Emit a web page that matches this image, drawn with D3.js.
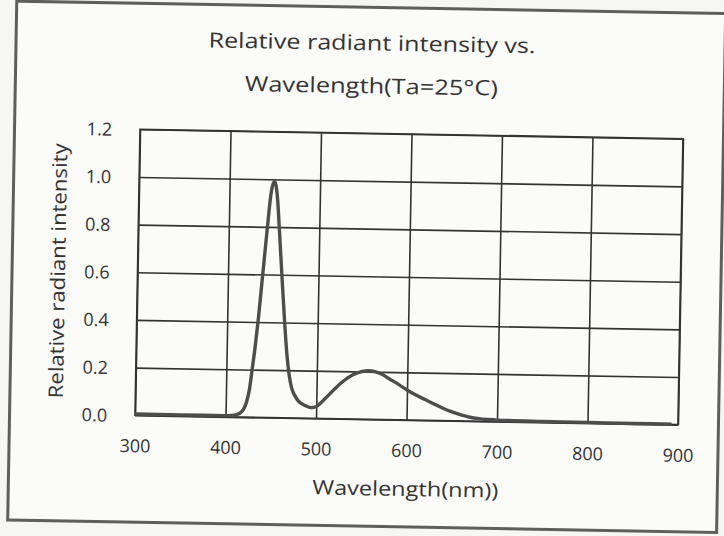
<!DOCTYPE html>
<html>
<head>
<meta charset="utf-8">
<script src="https://cdn.jsdelivr.net/npm/d3@7/dist/d3.min.js"></script>
<style>
  html, body { margin: 0; padding: 0; background: #f6f6f4; }
  svg { display: block; }
</style>
</head>
<body>
<svg id="chart" width="724" height="536"></svg>
<script>
// ---- data ----
const titleLines = ["Relative radiant intensity vs.", "Wavelength(Ta=25\u00B0C)"];
const xLabel = "Wavelength(nm))";
const yLabel = "Relative radiant intensity";

const xTicks = [300, 400, 500, 600, 700, 800, 900];
const yTicks = [0.0, 0.2, 0.4, 0.6, 0.8, 1.0, 1.2];

const wavelength = [300, 350, 400, 407, 412, 417, 420, 423, 426, 428.5, 431.5, 434.5, 437.5, 440.5, 443.5, 446, 448.5, 449.5, 451, 453.5, 455.5, 459.5, 463.5, 466.5, 469.5, 472.5, 476, 480, 487, 494, 500, 510, 520, 530, 540, 550, 557, 565, 572, 580, 590, 600, 610, 620, 630, 640, 650, 660, 670, 680, 690, 700, 750, 800, 850, 893];
const intensity  = [0.005, 0.005, 0.005, 0.006, 0.01, 0.02, 0.035, 0.065, 0.12, 0.2, 0.3, 0.42, 0.56, 0.7, 0.84, 0.94, 0.985, 0.99, 0.98, 0.91, 0.81, 0.6, 0.4, 0.27, 0.18, 0.125, 0.095, 0.072, 0.054, 0.045, 0.05, 0.085, 0.125, 0.16, 0.186, 0.2, 0.204, 0.2, 0.19, 0.172, 0.15, 0.126, 0.105, 0.087, 0.069, 0.052, 0.037, 0.025, 0.016, 0.011, 0.008, 0.006, 0.004, 0.003, 0.002, 0.002];

// ---- layout ----
const svg = d3.select("#chart");
const W = 724, H = 536;
const plot = { left: 137.5, top: 134, width: 543, height: 286 };
const textColor = "#333";
const font = "'Open Sans', 'DejaVu Sans', sans-serif";

svg.append("rect").attr("width", W).attr("height", H).attr("fill", "#f6f6f4");

// whole scanned sheet is tilted by about one degree
const root = svg.append("g").attr("transform", "rotate(1, 409, 277)");

// outer frame
root.append("rect")
  .attr("x", 12).attr("y", 8).attr("width", 709).attr("height", 519)
  .attr("fill", "#fbfbfa").attr("stroke", "#5e5e5e").attr("stroke-width", 3);

// title
const titleBase = [51, 94];
const titleLen = [327, 253];
titleLines.forEach((t, i) => {
  root.append("text")
    .attr("x", 368).attr("y", titleBase[i])
    .attr("text-anchor", "middle")
    .attr("font-family", font).attr("font-size", 21)
    .attr("fill", textColor)
    .attr("textLength", titleLen[i]).attr("lengthAdjust", "spacingAndGlyphs")
    .text(t);
});

const x = d3.scaleLinear().domain([300, 900]).range([0, plot.width]);
const y = d3.scaleLinear().domain([0, 1.2]).range([plot.height, 0]);

const g = root.append("g").attr("transform", `translate(${plot.left},${plot.top})`);

// grid
const gridColor = "#333";
const gx = g.append("g").attr("transform", `translate(0,${plot.height})`)
  .call(d3.axisBottom(x).tickValues(xTicks).tickSize(-plot.height).tickFormat(""));
const gy = g.append("g")
  .call(d3.axisLeft(y).tickValues(yTicks).tickSize(-plot.width).tickFormat(""));
[gx, gy].forEach(a => {
  a.select(".domain").remove();
  a.selectAll("line").attr("stroke", gridColor).attr("stroke-width", 1.6);
});
g.append("rect").attr("width", plot.width).attr("height", plot.height)
  .attr("fill", "none").attr("stroke", gridColor).attr("stroke-width", 1.7);

// tick labels
const lx = g.append("g").attr("transform", `translate(0,${plot.height})`)
  .call(d3.axisBottom(x).tickValues(xTicks).tickSize(0).tickFormat(d3.format("d")));
lx.select(".domain").remove();
lx.selectAll("text").attr("y", 37).attr("dy", 0)
  .attr("font-family", font).attr("font-size", 18).attr("fill", textColor);

const ly = g.append("g")
  .call(d3.axisLeft(y).tickValues(yTicks).tickSize(0).tickPadding(28).tickFormat(d3.format(".1f")));
ly.select(".domain").remove();
ly.selectAll("text").attr("dy", "0.35em")
  .attr("font-family", font).attr("font-size", 18).attr("fill", textColor);

// axis titles
g.append("text")
  .attr("x", plot.width / 2).attr("y", plot.height + 76)
  .attr("text-anchor", "middle")
  .attr("font-family", font).attr("font-size", 20).attr("fill", textColor)
  .attr("textLength", 186).attr("lengthAdjust", "spacingAndGlyphs")
  .text(xLabel);

g.append("text")
  .attr("transform", `translate(${65 - plot.left},${plot.height / 2}) rotate(-90)`)
  .attr("text-anchor", "middle")
  .attr("font-family", font).attr("font-size", 20).attr("fill", textColor)
  .attr("textLength", 255).attr("lengthAdjust", "spacingAndGlyphs")
  .text(yLabel);

// curve
const pts = wavelength.map((w, i) => [w, intensity[i]]);
g.append("path")
  .datum(pts)
  .attr("fill", "none")
  .attr("stroke", "#4d4d4d")
  .attr("stroke-width", 3.4)
  .attr("stroke-linejoin", "round")
  .attr("d", d3.line().x(d => x(d[0])).y(d => y(d[1])).curve(d3.curveMonotoneX));
</script>
</body>
</html>
